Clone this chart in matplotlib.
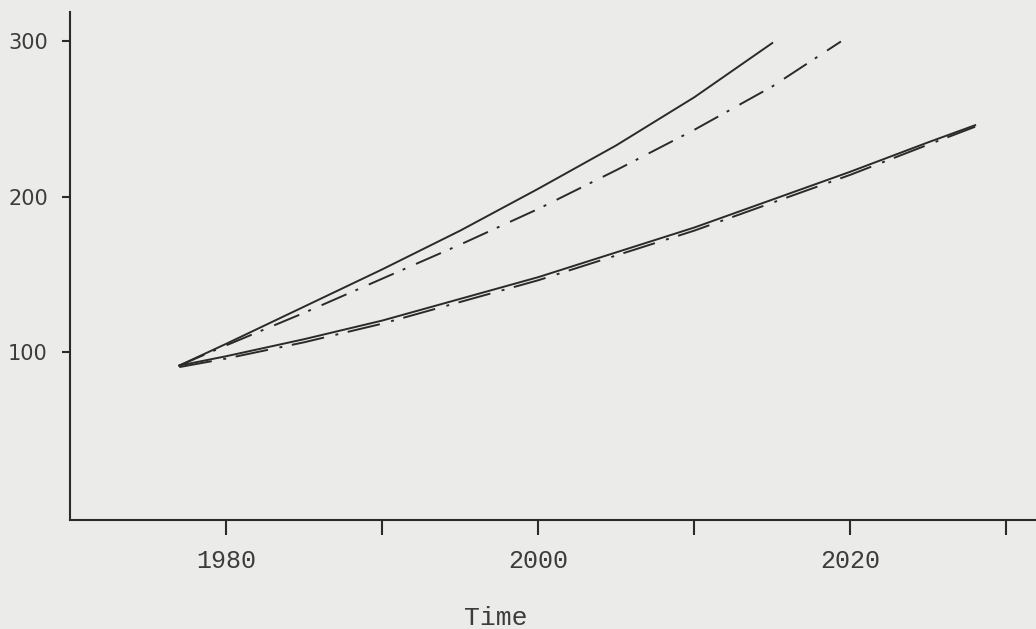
import matplotlib
matplotlib.use("Agg")
import matplotlib.pyplot as plt

# values
hi_solid_years = [1977, 1980, 1985, 1990, 1995, 2000, 2005, 2010, 2015]
hi_solid = [91, 105, 129, 153, 178, 205, 233, 264, 299]

hi_dash_years = [1977, 1980, 1985, 1990, 1995, 2000, 2005, 2010, 2015, 2019.4]
hi_dash = [91, 104, 125, 147, 169, 192, 217, 243, 271, 300]

lo_years = [1977, 1980, 1985, 1990, 1995, 2000, 2005, 2010, 2015, 2020, 2025, 2028]
lo_solid = [91, 97, 108, 120, 134, 148, 164, 180, 198, 216, 235, 246]
lo_dash = [90, 95.5, 106, 118, 132, 146, 162, 178, 196, 214, 233.5, 245]

x_ticks = [1980, 1990, 2000, 2010, 2020, 2030]
x_labels = ["1980", "", "2000", "", "2020", ""]
y_ticks = [100, 200, 300]

bg = "#ebebea"
ink = "#2a2a2a"
text_ink = "#3c3c3c"

fig = plt.figure(figsize=(10.36, 6.29), dpi=100, facecolor=bg)
ax = fig.add_axes([0.0676, 0.1733, 0.9324, 0.8076], facecolor=bg)

lw = 1.4
ax.plot(hi_solid_years, hi_solid, color=ink, lw=lw)
ax.plot(hi_dash_years, hi_dash, color=ink, lw=lw,
        linestyle=(0, (14, 5, 1.5, 6)))
ax.plot(lo_years, lo_solid, color=ink, lw=lw)
ax.plot(lo_years, lo_dash, color=ink, lw=lw,
        linestyle=(0, (17, 6, 1.5, 5)))

ax.set_xlim(1970, 2031.9)
ax.set_ylim(-8.6, 319)

for side in ["top", "right"]:
    ax.spines[side].set_visible(False)
for side in ["left", "bottom"]:
    ax.spines[side].set_color(ink)
    ax.spines[side].set_linewidth(1.5)

ax.set_xticks(x_ticks)
ax.set_xticklabels(x_labels, family="Liberation Mono", fontsize=18, color=text_ink)
ax.set_yticks(y_ticks)
ax.set_yticklabels([str(v) for v in y_ticks], family="DejaVu Sans", fontsize=15,
                   color=text_ink)
ax.tick_params(axis="x", direction="out", length=11, width=1.5, color=ink, pad=10)
ax.tick_params(axis="y", direction="out", length=6, width=1.5, color=ink, pad=10)

fig.text(0.479, 0.018, "Time", family="Liberation Mono", fontsize=19,
         color=text_ink, ha="center", va="center")

fig.savefig("out.png", dpi=100, facecolor=bg)
